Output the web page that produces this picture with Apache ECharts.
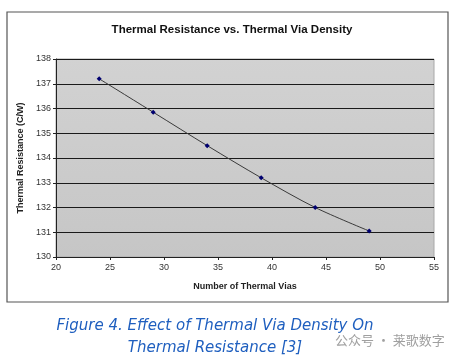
<!DOCTYPE html>
<html><head><meta charset="utf-8">
<script src="https://cdn.jsdelivr.net/npm/echarts@6/dist/echarts.min.js"></script>
<style>html,body{margin:0;padding:0;background:#fff}#c{width:457px;height:360px}</style>
</head><body><div id="c"></div>
<script>
const vias = [24, 29, 34, 39, 44, 49];
const resistance = [137.2, 135.85, 134.5, 133.2, 132.0, 131.05];
const xTicks = [20, 25, 30, 35, 40, 45, 50, 55];
const yTicks = [130, 131, 132, 133, 134, 135, 136, 137, 138];
const title = 'Thermal Resistance vs. Thermal Via Density';
const xName = 'Number of Thermal Vias';
const yName = 'Thermal Resistance (C/W)';
const caption1 = 'Figure 4. Effect of Thermal Via Density On';
const caption2 = 'Thermal Resistance [3]';
const watermark = '公众号 · 莱歌数字';

const chart = echarts.init(document.getElementById('c'));
chart.setOption({
  animation: false,
  backgroundColor: '#fff',
  title: {
    text: title, left: 227, top: 19, textAlign: 'center',
    textStyle: {fontFamily: 'Liberation Sans, Arial', fontSize: 11.5, fontWeight: 'bold', color: '#111'}
  },
  grid: {left: 56, right: 23, top: 59, bottom: 103, show: true,
    backgroundColor: new echarts.graphic.LinearGradient(0, 0, 0, 1, [
      {offset: 0, color: '#d2d2d2'}, {offset: 1, color: '#c6c6c6'}]),
    borderColor: '#a8a8a8', borderWidth: 1},
  xAxis: {
    type: 'value', min: xTicks[0], max: xTicks[xTicks.length - 1], interval: 5,
    name: xName, nameLocation: 'middle', nameGap: 25,
    nameTextStyle: {fontFamily: 'Liberation Sans, Arial', fontSize: 9, fontWeight: 'bold', color: '#222'},
    axisLine: {lineStyle: {color: '#222', width: 1}},
    axisTick: {show: true, length: 3, inside: false, lineStyle: {color: '#222'}},
    axisLabel: {fontFamily: 'Liberation Sans, Arial', fontSize: 9, color: '#333', margin: 6},
    splitLine: {show: false}
  },
  yAxis: {
    type: 'value', min: yTicks[0], max: yTicks[yTicks.length - 1], interval: 1,
    name: yName, nameLocation: 'middle', nameGap: 27,
    nameTextStyle: {fontFamily: 'Liberation Sans, Arial', fontSize: 9, fontWeight: 'bold', color: '#222'},
    axisLine: {show: true, lineStyle: {color: '#222', width: 1}},
    axisTick: {show: true, length: 3, lineStyle: {color: '#222'}},
    axisLabel: {fontFamily: 'Liberation Sans, Arial', fontSize: 9, color: '#333', margin: 5},
    splitLine: {show: true, lineStyle: {color: '#1a1a1a', width: 1}}
  },
  series: [{
    type: 'line',
    data: vias.map((v, i) => [v, resistance[i]]),
    smooth: 0.3,
    symbol: 'diamond', symbolSize: 5,
    itemStyle: {color: '#000070'},
    lineStyle: {color: '#3a3a3a', width: 1}
  }],
  graphic: [
    {type: 'rect', shape: {x: 7, y: 12, width: 441, height: 290},
      style: {fill: 'none', stroke: '#555', lineWidth: 1.2}, z: -1},
    {type: 'text', style: {text: caption1, x: 215, y: 326, textAlign: 'center', textVerticalAlign: 'middle',
      font: 'italic 15px "DejaVu Sans", Verdana', fill: '#1f5fbf'}},
    {type: 'text', style: {text: caption2, x: 215, y: 348, textAlign: 'center', textVerticalAlign: 'middle',
      font: 'italic 15px "DejaVu Sans", Verdana', fill: '#1f5fbf'}},
    {type: 'text', style: {text: watermark, x: 335, y: 340, textAlign: 'left', textVerticalAlign: 'middle',
      font: '13px "Noto Sans CJK SC"', fill: '#a0a0a0'}}
  ]
});
</script></body></html>
